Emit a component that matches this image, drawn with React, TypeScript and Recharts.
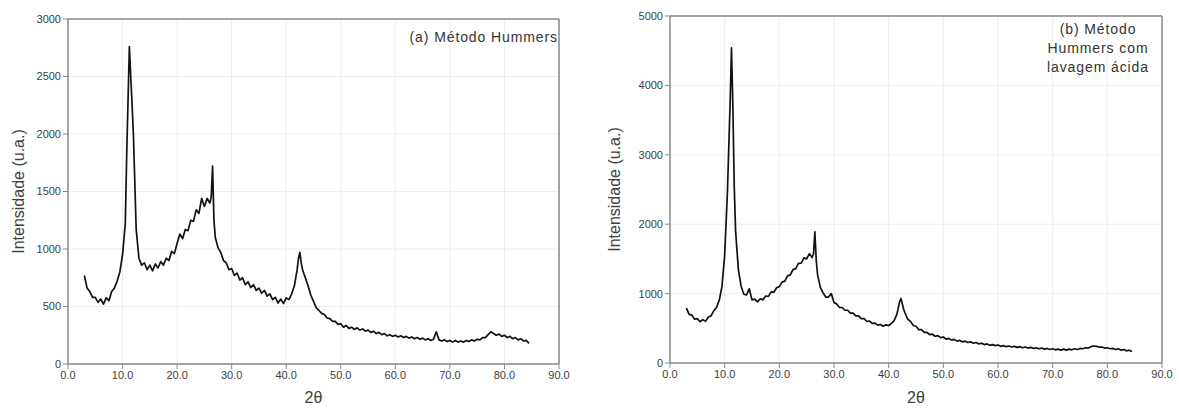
import { LineChart, Line, XAxis, YAxis, CartesianGrid, ReferenceLine } from "recharts";

// 2θ sampling positions (degrees), shared by both patterns
const twoTheta = [
  3, 3.5, 4, 4.5, 5, 5.5, 6, 6.5, 7, 7.5,
  8, 8.5, 9, 9.5, 10, 10.5, 10.75, 11, 11.25, 11.5,
  11.75, 12, 12.5, 13, 13.5, 14, 14.5, 15, 15.5, 16,
  16.5, 17, 17.5, 18, 18.5, 19, 19.5, 20, 20.5, 21,
  21.5, 22, 22.5, 23, 23.5, 24, 24.5, 25, 25.5, 26,
  26.25, 26.5, 26.75, 27, 27.5, 28, 28.5, 29, 29.5, 30,
  30.5, 31, 31.5, 32, 32.5, 33, 33.5, 34, 34.5, 35,
  35.5, 36, 36.5, 37, 37.5, 38, 38.5, 39, 39.5, 40,
  40.5, 41, 41.5, 42, 42.25, 42.5, 42.75, 43, 43.5, 44,
  44.5, 45, 45.5, 46, 46.5, 47, 47.5, 48, 48.5, 49,
  49.5, 50, 50.5, 51, 51.5, 52, 52.5, 53, 53.5, 54,
  54.5, 55, 55.5, 56, 56.5, 57, 57.5, 58, 58.5, 59,
  59.5, 60, 60.5, 61, 61.5, 62, 62.5, 63, 63.5, 64,
  64.5, 65, 65.5, 66, 66.5, 67, 67.5, 68, 68.5, 69,
  69.5, 70, 70.5, 71, 71.5, 72, 72.5, 73, 73.5, 74,
  74.5, 75, 75.5, 76, 76.5, 77, 77.5, 78, 78.5, 79,
  79.5, 80, 80.5, 81, 81.5, 82, 82.5, 83, 83.5, 84,
  84.5,
];

// (a) Método Hummers
const intensityA = [
  770, 660, 630, 580, 580, 535, 565, 520, 575, 550,
  630, 660, 720, 800, 950, 1220, 1800, 2280, 2760, 2500,
  2250, 1980, 1170, 920, 860, 880, 820, 860, 810, 870,
  835, 890, 860, 920, 900, 980, 960, 1050, 1130, 1090,
  1170, 1160, 1250, 1240, 1340, 1310, 1440, 1370, 1440, 1400,
  1450, 1720, 1250, 1100, 1010, 970, 900, 880, 820, 830,
  770, 790, 730, 750, 690, 715, 665, 690, 640, 660,
  615, 640, 590, 610, 560, 580, 530, 565, 525, 575,
  560, 610, 680, 820, 920, 970, 880, 820, 750, 680,
  600, 545, 490, 465, 440, 430, 400, 395, 370, 370,
  345, 350, 320, 335, 310, 320, 300, 315, 295, 305,
  285, 295, 275, 285, 265, 275, 255, 265, 245, 255,
  240, 250, 235, 245, 230, 240, 225, 235, 220, 230,
  215, 225, 210, 220, 205, 215, 280, 210, 200, 210,
  195, 205, 190, 205, 190, 200, 190, 205, 195, 210,
  200, 215, 210, 230, 230, 255, 280, 265, 250, 260,
  240, 250, 230, 240, 220, 230, 210, 220, 200, 205,
  180,
];

// (b) Método Hummers com lavagem ácida
const intensityB = [
  790, 700, 690, 630, 640, 595, 625, 600, 660, 680,
  750, 800, 900, 1100, 1550, 2450, 3100, 3750, 4540, 3700,
  2550, 1900, 1350, 1110, 990, 980, 1070, 910, 920, 880,
  925, 910, 965, 960, 1025, 1020, 1085, 1100, 1165, 1180,
  1255, 1270, 1345, 1360, 1435, 1440, 1515, 1500, 1575, 1520,
  1570, 1890, 1480, 1270, 1090, 1010, 950, 950, 1000, 870,
  850, 800, 800, 760, 760, 720, 720, 680, 680, 640,
  640, 600, 605, 570, 575, 545, 555, 530, 550, 540,
  570, 610, 700, 880, 930, 850, 770, 720, 630, 600,
  540, 530, 480, 480, 440, 440, 410, 415, 385, 395,
  365, 375, 345, 355, 330, 340, 315, 325, 305, 315,
  295, 305, 285, 295, 275, 285, 265, 275, 255, 265,
  250, 260, 240, 250, 235, 245, 230, 240, 225, 235,
  220, 230, 215, 225, 210, 220, 205, 215, 200, 210,
  195, 205, 190, 200, 185, 200, 185, 200, 190, 205,
  195, 210, 205, 220, 215, 235, 245, 240, 230, 230,
  215, 220, 205, 210, 195, 205, 185, 195, 175, 185,
  165,
];

const xTicks = [0, 10, 20, 30, 40, 50, 60, 70, 80, 90];
const yTicksA = [0, 500, 1000, 1500, 2000, 2500, 3000];
const yTicksB = [0, 1000, 2000, 3000, 4000, 5000];
const yTitle = "Intensidade (u.a.)";
const xTitle = "2θ";
const noteA = ["(a) Método Hummers"];
const noteB = ["(b) Método", "Hummers com", "lavagem ácida"];

const FONT = "Arial, 'Liberation Sans', sans-serif";
const AXIS = "#8a8a8a";
const TEXT = "#404040";

interface PanelProps {
  values: number[];
  yTicks: number[];
  x: number;
  width: number;
  plotLeft: number;
  plotRight: number;
  plotTop: number;
  plotBottom: number;
  yLabelDx: number;
  note: string[];
  noteStyle: React.CSSProperties;
}

function Panel({ values, yTicks, x, width, plotLeft, plotRight, plotTop, plotBottom, yLabelDx, note, noteStyle }: PanelProps) {
  const n = Math.min(twoTheta.length, values.length);
  const data = twoTheta.slice(0, n).map((t, i) => ({ t, v: values[i] }));
  const yMax = yTicks[yTicks.length - 1];
  const tickStyle = { fill: TEXT, fontSize: 11, fontFamily: FONT };

  return (
    <div style={{ position: "absolute", left: x, top: 0, width, height: 410 }}>
      <LineChart
        width={width}
        height={410}
        data={data}
        margin={{ top: plotTop, right: width - plotRight, left: 0, bottom: 0 }}
      >
        <CartesianGrid stroke="#ededed" strokeWidth={1} />
        <XAxis
          dataKey="t"
          type="number"
          domain={[0, 90]}
          ticks={xTicks}
          tickFormatter={(v: number) => v.toFixed(1)}
          height={410 - plotBottom}
          tick={tickStyle}
          tickSize={5}
          tickLine={{ stroke: AXIS }}
          axisLine={{ stroke: AXIS, strokeWidth: 1.5 }}
          interval={0}
          label={{ value: xTitle, position: "insideBottom", offset: 7, fill: TEXT, fontSize: 16, fontFamily: FONT }}
        />
        <YAxis
          type="number"
          domain={[0, yMax]}
          ticks={yTicks}
          width={plotLeft}
          tick={tickStyle}
          tickSize={5}
          tickLine={{ stroke: AXIS }}
          axisLine={{ stroke: AXIS, strokeWidth: 1.5 }}
          interval={0}
          label={{ value: yTitle, angle: -90, position: "center", dx: yLabelDx, fill: TEXT, fontSize: 16, fontFamily: FONT }}
        />
        <ReferenceLine y={yMax} stroke={AXIS} strokeWidth={1.5} />
        <ReferenceLine x={90} stroke={AXIS} strokeWidth={1.5} />
        <Line
          type="linear"
          dataKey="v"
          stroke="#111111"
          strokeWidth={1.7}
          strokeLinejoin="round"
          dot={false}
          isAnimationActive={false}
        />
      </LineChart>
      <div
        style={{
          position: "absolute",
          fontFamily: FONT,
          fontSize: 14,
          color: "#333",
          letterSpacing: 0.9,
          lineHeight: "19px",
          whiteSpace: "nowrap",
          ...noteStyle,
        }}
      >
        {note.map((line) => (
          <div key={line}>{line}</div>
        ))}
      </div>
    </div>
  );
}

export default function App() {
  return (
    <div style={{ position: "absolute", left: 0, top: 0, width: 1179, height: 410, background: "#fff", overflow: "hidden" }}>
      <Panel
        values={intensityA}
        yTicks={yTicksA}
        x={0}
        width={600}
        plotLeft={68}
        plotRight={559}
        plotTop={19}
        plotBottom={364}
        yLabelDx={-16}
        note={noteA}
        noteStyle={{ right: 600 - 558, top: 28, textAlign: "right" }}
      />
      <Panel
        values={intensityB}
        yTicks={yTicksB}
        x={600}
        width={579}
        plotLeft={70}
        plotRight={1162 - 600}
        plotTop={16}
        plotBottom={363}
        yLabelDx={-21}
        note={noteB}
        noteStyle={{ left: 498 - 65, width: 130, top: 20, textAlign: "center" }}
      />
    </div>
  );
}
